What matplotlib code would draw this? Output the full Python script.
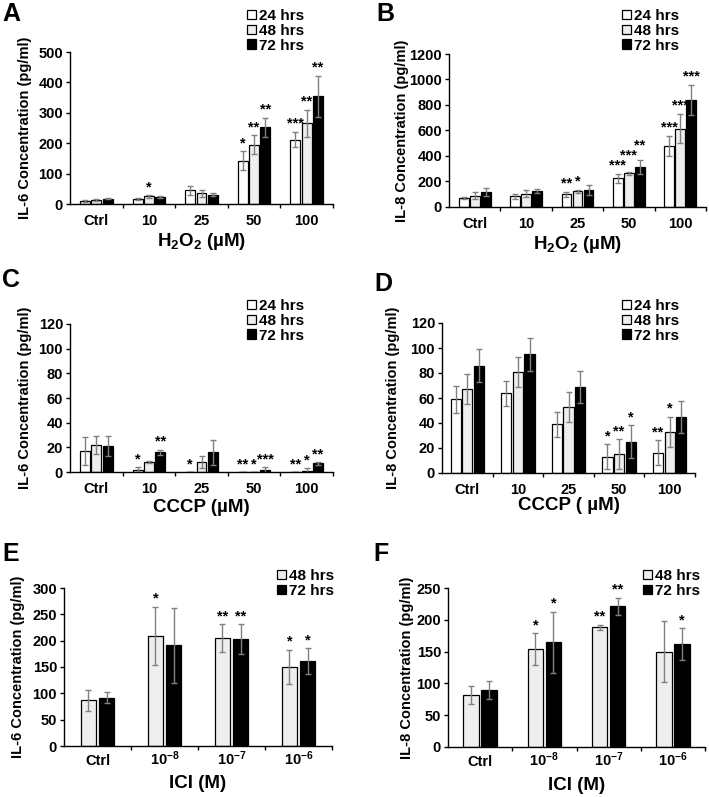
import matplotlib
matplotlib.use('Agg')
import matplotlib.pyplot as plt
from matplotlib.patches import Patch
import numpy as np

plt.rcParams['font.family'] = ['Liberation Sans', 'DejaVu Sans']
plt.rcParams['font.weight'] = 'bold'
plt.rcParams['mathtext.fontset'] = 'custom'
plt.rcParams['mathtext.rm'] = 'Liberation Sans:bold'
plt.rcParams['mathtext.bf'] = 'Liberation Sans:bold'
plt.rcParams['mathtext.it'] = 'Liberation Sans:bold'
plt.rcParams['mathtext.default'] = 'bf'

# ---------------- data ----------------
conc_cats = ['Ctrl', '10', '25', '50', '100']
ici_cats = ['Ctrl', r'10$^{-8}$', r'10$^{-7}$', r'10$^{-6}$']
series3 = ['24 hrs', '48 hrs', '72 hrs']
series2 = ['48 hrs', '72 hrs']

# A: IL-6, H2O2
a_24 = [10, 17, 45, 143, 212]
a_48 = [12, 25, 35, 195, 265]
a_72 = [18, 23, 30, 252, 354]
a_24_err = [3, 4, 15, 30, 25]
a_48_err = [3, 4, 12, 32, 45]
a_72_err = [2, 4, 5, 32, 68]
a_24_sig = ['', '', '', '*', '***']
a_48_sig = ['', '*', '', '**', '**']
a_72_sig = ['', '', '', '**', '**']

# B: IL-8, H2O2
b_24 = [70, 85, 100, 225, 478]
b_48 = [90, 105, 125, 265, 615]
b_72 = [118, 125, 135, 315, 840]
b_24_err = [8, 20, 20, 35, 80]
b_48_err = [25, 25, 12, 12, 115]
b_72_err = [28, 15, 38, 55, 120]
b_24_sig = ['', '', '**', '***', '***']
b_48_sig = ['', '', '*', '***', '***']
b_72_sig = ['', '', '', '**', '***']

# C: IL-6, CCCP
c_24 = [17, 2, 0, 0, 0]
c_48 = [22, 8, 8, 0, 1]
c_72 = [21, 16, 16, 1.5, 7]
c_24_err = [11, 2, 0, 0, 0]
c_48_err = [7, 1, 5, 0, 2]
c_72_err = [8, 2, 10, 2.5, 1]
c_24_sig = ['', '*', '*', '**', '**']
c_48_sig = ['', '', '', '*', '*']
c_72_sig = ['', '**', '', '***', '**']

# D: IL-8, CCCP
d_24 = [59, 64, 39, 13, 16]
d_48 = [67, 81, 53, 15, 33]
d_72 = [86, 95, 69, 25, 45]
d_24_err = [11, 10, 10, 10, 10]
d_48_err = [12, 12, 12, 12, 12]
d_72_err = [13, 13, 13, 13, 13]
d_24_sig = ['', '', '', '*', '**']
d_48_sig = ['', '', '', '**', '*']
d_72_sig = ['', '', '', '*', '']

# E: IL-6, ICI
e_48 = [87, 209, 205, 150]
e_72 = [92, 191, 203, 161]
e_48_err = [20, 55, 26, 33]
e_72_err = [11, 71, 28, 25]
e_48_sig = ['', '*', '**', '*']
e_72_sig = ['', '', '**', '*']

# F: IL-8, ICI
f_48 = [82, 154, 188, 150]
f_72 = [90, 165, 221, 162]
f_48_err = [14, 25, 4, 48]
f_72_err = [14, 48, 14, 25]
f_48_sig = ['', '*', '**', '']
f_72_sig = ['', '*', '**', '*']

# ---------------- layout ----------------
W, H = 709, 797
fig = plt.figure(figsize=(W / 100, H / 100), dpi=100)
renderer = fig.canvas.get_renderer()

FILL = {'24 hrs': 'white', '48 hrs': '#eeeeee', '72 hrs': 'black'}
ECOL = '#808080'

panels = [
    dict(letter='A', box=(70, 333, 52, 204), lp=(2, 2), cats=conc_cats, series=series3,
         vals=[a_24, a_48, a_72], errs=[a_24_err, a_48_err, a_72_err], sigs=[a_24_sig, a_48_sig, a_72_sig],
         ymax=500, ystep=100, ylabel='IL-6 Concentration (pg/ml)', xlabel=r'H$_2$O$_2$ (µM)',
         leg=(247, 9), ylab_x=25, xlab_y=241, width=0.19, step=0.215, xpad=7, xva='top'),
    dict(letter='B', box=(449, 706, 54, 207), lp=(376, 2), cats=conc_cats, series=series3,
         vals=[b_24, b_48, b_72], errs=[b_24_err, b_48_err, b_72_err], sigs=[b_24_sig, b_48_sig, b_72_sig],
         ymax=1200, ystep=200, ylabel='IL-8 Concentration (pg/ml)', xlabel=r'H$_2$O$_2$ (µM)',
         leg=(622, 9), ylab_x=402, xlab_y=245, width=0.19, step=0.215, xpad=7, xva='top'),
    dict(letter='C', box=(70, 333, 324, 472), lp=(2, 268), cats=conc_cats, series=series3,
         vals=[c_24, c_48, c_72], errs=[c_24_err, c_48_err, c_72_err], sigs=[c_24_sig, c_48_sig, c_72_sig],
         ymax=120, ystep=20, ylabel='IL-6 Concentration (pg/ml)', xlabel='CCCP (µM)',
         leg=(247, 299), ylab_x=25, xlab_y=507, width=0.19, step=0.215, xpad=7, xva='top'),
    dict(letter='D', box=(442, 695, 323, 473), lp=(374, 272), cats=conc_cats, series=series3,
         vals=[d_24, d_48, d_72], errs=[d_24_err, d_48_err, d_72_err], sigs=[d_24_sig, d_48_sig, d_72_sig],
         ymax=120, ystep=20, ylabel='IL-8 Concentration (pg/ml)', xlabel='CCCP ( µM)',
         leg=(622, 299), ylab_x=393, xlab_y=505, width=0.2, step=0.23, xpad=7, xva='top'),
    dict(letter='E', box=(64, 332, 588, 746), lp=(2, 542), cats=ici_cats, series=series2,
         vals=[e_48, e_72], errs=[e_48_err, e_72_err], sigs=[e_48_sig, e_72_sig],
         ymax=300, ystep=50, ylabel='IL-6 Concentration (pg/ml)', xlabel='ICI (M)',
         leg=(277, 569), ylab_x=18, xlab_y=784, width=0.23, step=0.27, xpad=13.5, xva='baseline'),
    dict(letter='F', box=(448, 705, 588, 747), lp=(373, 542), cats=ici_cats, series=series2,
         vals=[f_48, f_72], errs=[f_48_err, f_72_err], sigs=[f_48_sig, f_72_sig],
         ymax=250, ystep=50, ylabel='IL-8 Concentration (pg/ml)', xlabel='ICI (M)',
         leg=(643, 569), ylab_x=407, xlab_y=785, width=0.24, step=0.28, xpad=13.5, xva='baseline'),
]

for p in panels:
    l, r, t, b = p['box']
    ax = fig.add_axes([l / W, 1 - b / H, (r - l) / W, (b - t) / H])
    n = len(p['cats'])
    x = np.arange(n)
    ns = len(p['series'])
    ax.set_xlim(-0.5, n - 0.5)
    ax.set_ylim(0, p['ymax'])
    handles = []
    placed = {}
    for i, (name, v, e, s) in enumerate(zip(p['series'], p['vals'], p['errs'], p['sigs'])):
        off = (i - (ns - 1) / 2) * p['step']
        ax.bar(x + off, v, width=p['width'], color=FILL[name], edgecolor='black', linewidth=0.9,
               yerr=e, error_kw=dict(ecolor=ECOL, elinewidth=1, capsize=2, capthick=1), zorder=2)
        for xi, vi, ei, si in zip(x, v, e, s):
            if not si:
                continue
            dy = 4
            ann = ax.annotate(si, xy=(xi + off, vi + ei), xytext=(0, dy), textcoords='offset pixels',
                              ha='center', va='baseline', fontsize=10.5, fontweight='bold')
            group = placed.setdefault(xi, [])
            for _ in range(40):
                bb = ann.get_window_extent(renderer).shrunk(0.95, 0.6)
                if any(bb.overlaps(pb) for pb in group):
                    dy += 2
                    ann.xyann = (0, dy)
                else:
                    break
            group.append(ann.get_window_extent(renderer).shrunk(0.95, 0.6))
        handles.append(Patch(facecolor=FILL[name], edgecolor='black', linewidth=0.9, label=name))
    ax.set_yticks(np.arange(0, p['ymax'] + 1, p['ystep']))
    ax.set_xticks(x)
    ax.set_xticklabels(p['cats'])
    ax.set_xticks(np.arange(0.5, n, 1.0), minor=True)
    ax.tick_params(axis='x', which='major', length=0, pad=p['xpad'], labelsize=10.5)
    ax.tick_params(axis='x', which='minor', length=3, width=1, direction='out')
    ax.tick_params(axis='y', length=3, width=1, direction='out', pad=2, labelsize=10.5)
    for lab in ax.get_xticklabels():
        lab.set_fontweight('bold')
        lab.set_va(p['xva'])
    for lab in ax.get_yticklabels():
        lab.set_fontweight('bold')
    for sp in ['top', 'right']:
        ax.spines[sp].set_visible(False)
    for sp in ['left', 'bottom']:
        ax.spines[sp].set_linewidth(1.0)
    ax.set_ylabel(p['ylabel'], fontsize=10.5, fontweight='bold', va='center')
    ax.yaxis.set_label_coords((p['ylab_x'] - l) / (r - l), 0.5)
    ax.set_xlabel(p['xlabel'], fontsize=13.5, fontweight='bold', va='center')
    ax.xaxis.set_label_coords(0.5, (b - p['xlab_y']) / (b - t))
    lx, ly = p['leg']
    ax.legend(handles=handles, loc='upper left', bbox_to_anchor=(lx / W, 1 - ly / H),
              bbox_transform=fig.transFigure, borderaxespad=0, borderpad=0, frameon=False,
              handlelength=0.6, handleheight=0.6, handletextpad=0.2, labelspacing=0.05,
              prop=dict(size=11, weight='bold'))
    fig.text(p['lp'][0] / W, 1 - p['lp'][1] / H, p['letter'], fontsize=18, fontweight='bold',
             ha='left', va='top')

fig.savefig('out.png', dpi=100)
